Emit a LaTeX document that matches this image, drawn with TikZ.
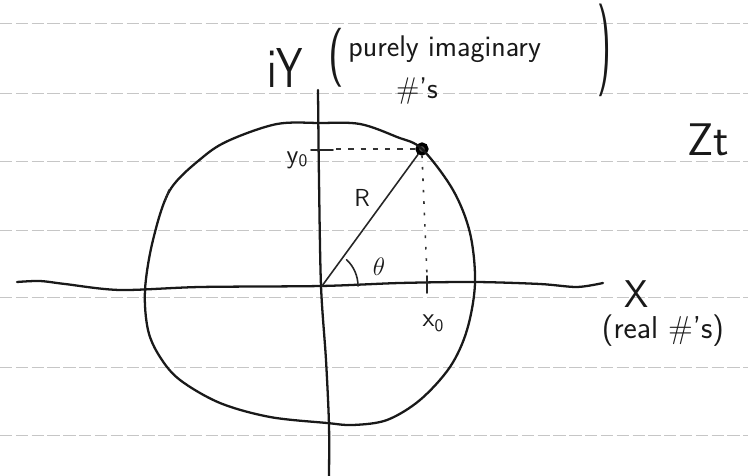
\documentclass[tikz,border=0pt]{standalone}
\usepackage{graphicx}
\begin{document}
\begin{tikzpicture}[x=0.02cm,y=-0.02cm,
  pen/.style={line width=1.3pt,line cap=round,line join=round,black!90},
  thinpen/.style={line width=0.9pt,line cap=round,black!85},
  paper/.style={line width=0.5pt,gray!45,dash pattern=on 7pt off 2pt},
  dotline/.style={line width=0.9pt,black!80,dash pattern=on 1.5pt off 5pt},
  dashline/.style={line width=0.9pt,black!80,dash pattern=on 3pt off 4pt},
  hand/.style={font=\sffamily,inner sep=0pt,black!90},
]
\useasboundingbox (0,0) rectangle (748,476);
\fill[white] (0,0) rectangle (748,476);
% ruled paper
\foreach \yy in {23,93,161,230,297,367,435}
  \draw[paper] (0,\yy) -- (748,\yy);

% named points
\coordinate (O) at (322,286);
\node[circle,draw,line width=2pt,fill=black!70,minimum size=5.5pt,inner sep=0pt] (P) at (422,149) {};
\coordinate (ytickL) at (311,150);
\coordinate (xtickT) at (427,276);
\coordinate (xtickB) at (427,293);

% closed curve
\draw[pen] plot[smooth cycle,tension=0.55] coordinates {
 (422,149) (453,190) (470,233) (475,283) (467,330) (450,367) (420,400)
 (387,420) (353,425) (327,423) (270,417) (220,403) (180,380) (160,357)
 (148,330) (145,290) (153,240) (170,190) (203,157) (230,140) (277,124)
 (320,123) (360,124) (397,137)};
% small pen mark on the left
\draw[thinpen] (169,190) -- (165,201);

% axes
\draw[pen] plot[smooth,tension=0.5] coordinates {
 (318,90) (319,180) (321,286) (326,360) (329,425) (329,476)};
\draw[pen] plot[smooth,tension=0.5] coordinates {
 (17,282) (40,281) (65,284) (120,290) (200,287) (321,286) (400,283)
 (475,282) (540,284) (577,287) (603,283)};

% radius and angle
\draw[thinpen] (O) -- (P);
\draw[thinpen] ([shift={(0:36)}]O) arc[start angle=0,end angle=-47,radius=36];

% projections
\draw[thinpen] (ytickL) -- (333,150);
\draw[dashline] (336,149) -- (P.west);
\draw[dotline] (P.south) -- (xtickT);
\draw[thinpen] (xtickT) -- (xtickB);

% labels
\node[hand,font=\sffamily\fontsize{32}{32}\selectfont] (iy) at (285,68) {\scalebox{0.75}[1]{iY}};
\node[hand,font=\sffamily\fontsize{24}{24}\selectfont] (lp) at (336,58) {\scalebox{1}[1.4]{(}};
\node[hand,font=\sffamily\fontsize{17}{17}\selectfont,anchor=base west] (pim) at (348,57) {purely imaginary};
\node[hand,font=\sffamily\fontsize{17}{17}\selectfont] (hs) at (417,91) {\#'s};
\node[hand,font=\sffamily\fontsize{24}{24}\selectfont] (rp) at (604,50) {\scalebox{0.9}[2.2]{)}};
\node[hand,font=\sffamily\fontsize{26}{26}\selectfont] (zt) at (708,140) {Zt};
\node[hand,font=\sffamily\fontsize{15}{15}\selectfont] (y0) at (297,160) {y\raisebox{-2pt}{\fontsize{10}{10}\selectfont 0}};
\node[hand,font=\sffamily\fontsize{14}{14}\selectfont] (R) at (362,198) {R};
\node[hand,font=\fontsize{15}{15}\selectfont] (th) at (379,267) {$\theta$};
\node[hand,font=\sffamily\fontsize{15}{15}\selectfont] (x0) at (433,323) {x\raisebox{-3pt}{\fontsize{10}{10}\selectfont 0}};
\node[hand,font=\sffamily\fontsize{22}{22}\selectfont] (X) at (637,294) {X};
\node[hand,font=\sffamily\fontsize{18}{18}\selectfont] (real) at (663,331) {(real \#'s)};
\end{tikzpicture}
\end{document}
